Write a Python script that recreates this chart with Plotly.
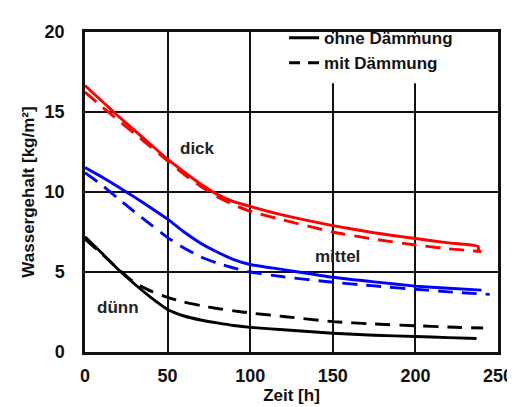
import plotly.graph_objects as go

# Time axis values [h] shared by all curves, plus each curve's own end time
t_base = [0, 10, 20, 30, 40, 50, 60, 70, 80, 90, 100, 120, 150, 175, 200, 220]

# dick (red)
dick_ohne = [16.65, 15.7, 14.75, 13.85, 12.95, 12.05, 11.25, 10.5, 9.85, 9.4, 9.1, 8.55, 7.9, 7.45, 7.09, 6.82]
dick_ohne_end_t = [238, 238]
dick_ohne_end = [6.59, 6.22]
dick_mit = [16.25, 15.35, 14.5, 13.65, 12.8, 11.95, 11.1, 10.35, 9.7, 9.2, 8.8, 8.25, 7.5, 7.05, 6.69, 6.45]
dick_mit_end_t = [240]
dick_mit_end = [6.28]

# mittel (blue)
mittel_ohne = [11.53, 10.95, 10.33, 9.68, 9.0, 8.3, 7.5, 6.8, 6.25, 5.78, 5.47, 5.15, 4.67, 4.38, 4.12, 3.98]
mittel_ohne_end_t = [240]
mittel_ohne_end = [3.87]
mittel_mit = [11.2, 10.45, 9.6, 8.75, 7.95, 7.15, 6.5, 5.95, 5.55, 5.25, 5.0, 4.7, 4.36, 4.13, 3.92, 3.76]
mittel_mit_end_t = [245]
mittel_mit_end = [3.6]

# dünn (black)
duenn_ohne = [7.2, 6.2, 5.17, 4.25, 3.4, 2.66, 2.25, 2.0, 1.82, 1.66, 1.54, 1.39, 1.17, 1.05, 0.97, 0.9]
duenn_ohne_end_t = [237]
duenn_ohne_end = [0.84]
duenn_mit = [7.05, 6.15, 5.2, 4.33, 3.8, 3.42, 3.12, 2.9, 2.72, 2.57, 2.44, 2.22, 1.9, 1.75, 1.64, 1.56]
duenn_mit_end_t = [241]
duenn_mit_end = [1.5]

x_ticks = [0, 50, 100, 150, 200, 250]
y_ticks = [0, 5, 10, 15, 20]

labels = ["dick", "mittel", "dünn"]
label_x = [68, 153, 20]
label_y = [12.7, 6.0, 2.8]

FAM = "Liberation Sans, Arial"
DASH = "15px,9px"
LW = 2.9

fig = go.Figure()

# white patch behind the legend (hides grid lines there)
fig.add_shape(type="rect", xref="x", yref="y", x0=113, x1=249, y0=16.8, y1=19.9,
              fillcolor="white", line=dict(width=0), layer="between")

series = [
    (dick_ohne, dick_ohne_end_t, dick_ohne_end, "red", "solid"),
    (dick_mit, dick_mit_end_t, dick_mit_end, "red", DASH),
    (mittel_ohne, mittel_ohne_end_t, mittel_ohne_end, "blue", "solid"),
    (mittel_mit, mittel_mit_end_t, mittel_mit_end, "blue", DASH),
    (duenn_ohne, duenn_ohne_end_t, duenn_ohne_end, "black", "solid"),
    (duenn_mit, duenn_mit_end_t, duenn_mit_end, "black", DASH),
]
for ys, te, ye, col, dash in series:
    fig.add_trace(go.Scatter(x=t_base + te, y=ys + ye, mode="lines", showlegend=False,
                             line=dict(color=col, width=LW, dash=dash, shape="spline", smoothing=0.5)))

# legend entries
fig.add_trace(go.Scatter(x=[None], y=[None], mode="lines", name="ohne Dämmung",
                         line=dict(color="black", width=LW)))
fig.add_trace(go.Scatter(x=[None], y=[None], mode="lines", name="mit Dämmung",
                         line=dict(color="black", width=LW, dash="11px,8px")))

for txt, lx, ly in zip(labels, label_x, label_y):
    fig.add_annotation(x=lx, y=ly, text=f"<b>{txt}</b>", showarrow=False,
                       font=dict(size=17, color="#222", family=FAM))

fig.update_layout(
    width=507, height=399,
    margin=dict(l=77, r=17, t=14, b=55),
    paper_bgcolor="white", plot_bgcolor="white",
    font=dict(family=FAM, color="#111"),
    showlegend=True,
    legend=dict(x=0.482, y=1.037, xanchor="left", yanchor="top",
                bgcolor="rgba(0,0,0,0)", borderwidth=0,
                font=dict(size=17, color="#111", family=FAM, weight="bold"),
                tracegroupgap=0),
    xaxis=dict(range=[0, 250], tickvals=x_ticks, ticktext=[str(v) for v in x_ticks],
               showgrid=True, gridcolor="#111", gridwidth=1.5,
               showline=True, linecolor="#111", linewidth=2.5, mirror=True,
               zeroline=False, ticks="", ticklabelstandoff=6, automargin=False,
               tickfont=dict(size=18, family=FAM, color="#111", weight="bold"),
               title=dict(text="<b>Zeit [h]</b>", font=dict(size=17), standoff=2)),
    yaxis=dict(range=[0, 20], tickvals=y_ticks, ticktext=[str(v) for v in y_ticks],
               showgrid=True, gridcolor="#111", gridwidth=1.5,
               showline=True, linecolor="#111", linewidth=2.5, mirror=True,
               zeroline=False, ticks="", ticklabelstandoff=14, automargin=False,
               tickfont=dict(size=18, family=FAM, color="#111", weight="bold"),
               title=dict(text="<b>Wassergehalt [kg/m²]</b>", font=dict(size=17), standoff=6)),
)

fig.write_html("out.html")
